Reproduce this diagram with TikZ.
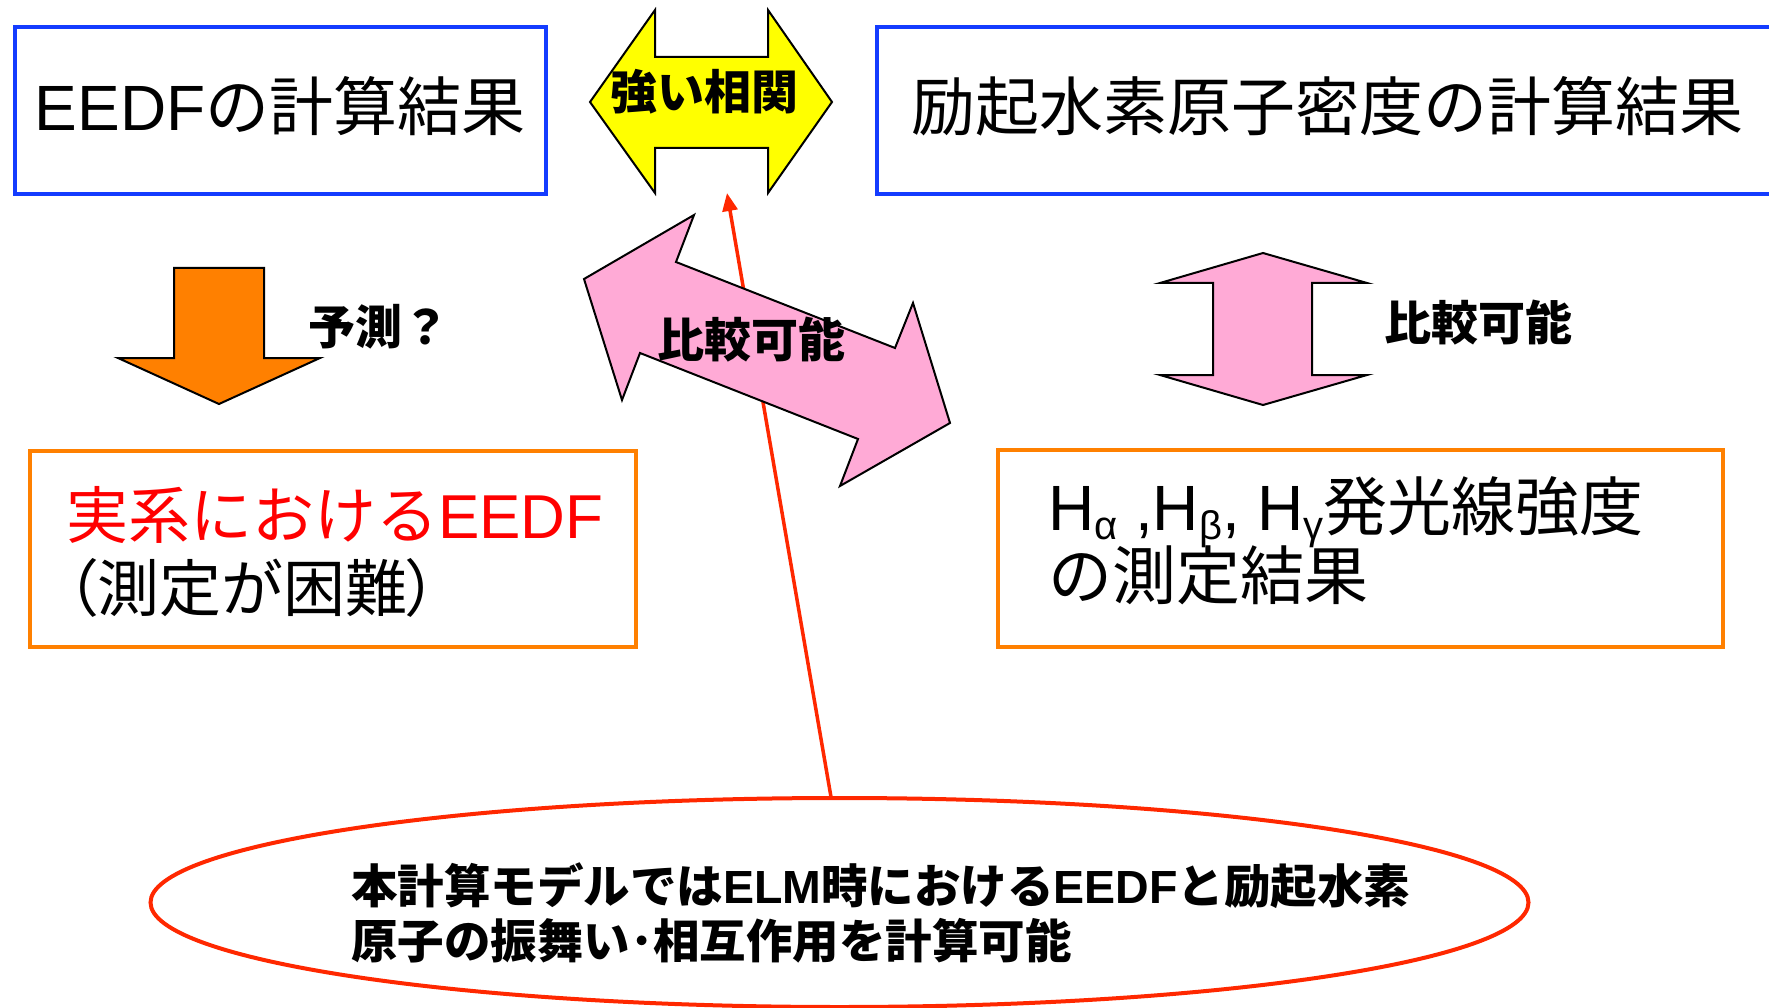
\documentclass[tikz,border=0pt]{standalone}
\usepackage{fontspec}
\setmainfont{Noto Sans CJK JP}
\newfontfamily\lat{Liberation Sans}
\newfontfamily\jpp[RawFeature=+palt]{Noto Sans CJK JP}
\usetikzlibrary{shapes.geometric,arrows.meta}
\definecolor{boxblue}{RGB}{20,60,255}
\definecolor{boxorange}{RGB}{255,128,0}
\definecolor{arrorange}{RGB}{255,128,0}
\definecolor{arrpink}{RGB}{255,170,214}
\definecolor{arryellow}{RGB}{255,255,0}
\definecolor{linered}{RGB}{255,40,0}
\newcommand\lowidx[1]{\raisebox{-9pt}{\fontsize{40}{40}\selectfont #1}}
\begin{document}
\begin{tikzpicture}[x=1pt,y=-1pt,
  bluebox/.style={draw=boxblue,line width=4pt,inner sep=0pt,outer sep=0pt},
  orangebox/.style={draw=boxorange,line width=4pt,inner sep=0pt,outer sep=0pt},
  bigtext/.style={inner sep=0pt,outer sep=0pt,font=\fontsize{64}{70}\selectfont},
  midtext/.style={inner sep=0pt,outer sep=0pt,font=\fontsize{62}{70}\selectfont},
  labtext/.style={inner sep=0pt,outer sep=0pt,font=\fontsize{47}{55}\selectfont\bfseries},
  elltext/.style={inner sep=0pt,outer sep=0pt,font=\fontsize{46.5}{55}\selectfont\bfseries},
  arrowshape/.style={draw=black,line width=2pt,line join=miter},
  redline/.style={draw=linered,line width=3.5pt}]
\useasboundingbox (0,0) rectangle (1769,1008);
\fill[white] (0,0) rectangle (1769,1008);

% boxes
\node[bluebox,minimum width=531pt,minimum height=167pt] (eedfcalc) at (280.5,110.5) {};
\node[bluebox,minimum width=913pt,minimum height=167pt] (hcalc) at (1333.5,110.5) {};
\node[orangebox,minimum width=606pt,minimum height=196pt] (eedfreal) at (333,549) {};
\node[orangebox,minimum width=725pt,minimum height=197pt] (hmeas) at (1360.5,548.5) {};

% box texts
\node[bigtext,anchor=base] (t1) at (280,131) {{\lat EEDF}の計算結果};
\node[bigtext,anchor=base] (t2) at (1327,131) {励起水素原子密度の計算結果};
\node[midtext,anchor=base west,text=red] (t3) at (66,538) {実系における{\lat EEDF}};
\node[midtext,anchor=base west] (t4) at (66,611) {{\jpp （}測定が困難{\jpp ）}};
\node[bigtext,anchor=base west] (t5) at (1048,530) {{\lat H\lowidx{α} ,H\lowidx{β}, H\lowidx{γ}}発光線強度};
\node[bigtext,anchor=base west] (t6) at (1048,599) {の測定結果};

% ellipse
\node[draw=linered,line width=4pt,ellipse,minimum width=1378pt,minimum height=209pt,inner sep=0pt] (ell) at (839.5,902.5) {};
\node[elltext,anchor=base west] (e1) at (351,903) {本計算モデルでは{\lat\bfseries ELM}時における{\lat\bfseries EEDF}と励起水素};
\node[elltext,anchor=base west] (e2) at (351,958) {原子の振舞い･相互作用を計算可能};

% red connector
\coordinate (src) at (831,797);
\coordinate (tgt) at (727,193);
\draw[redline,-{Triangle[length=18pt,width=15pt]}] (src) -- (tgt);

% yellow double arrow
\draw[arrowshape,fill=arryellow] (590,102) -- (655,10) -- (655,57) -- (768,57) -- (768,10) -- (832,102) -- (768,193) -- (768,148) -- (655,148) -- (655,193) -- cycle;
\node[labtext,anchor=base] (strong) at (704,110) {強い相関};

% diagonal pink arrow
\draw[arrowshape,fill=arrpink] (584,279) -- (694,215) -- (676,262) -- (895,348) -- (913,303) -- (950,423) -- (840,486) -- (858,439) -- (640,353) -- (622,400) -- cycle;
\node[labtext,anchor=base] (cmp1) at (751,357) {比較可能};

% vertical pink arrow
\draw[arrowshape,fill=arrpink] (1263,253) -- (1367,283) -- (1312,283) -- (1312,375) -- (1367,375) -- (1263,405) -- (1160,375) -- (1213,375) -- (1213,283) -- (1160,283) -- cycle;
\node[labtext,anchor=base] (cmp2) at (1478,340) {比較可能};

% orange down arrow
\draw[arrowshape,fill=arrorange] (174,268) -- (264,268) -- (264,358) -- (320,358) -- (219,404) -- (118,358) -- (174,358) -- cycle;
\node[labtext,anchor=base west] (pred) at (308,344) {予測？};
\end{tikzpicture}
\end{document}
